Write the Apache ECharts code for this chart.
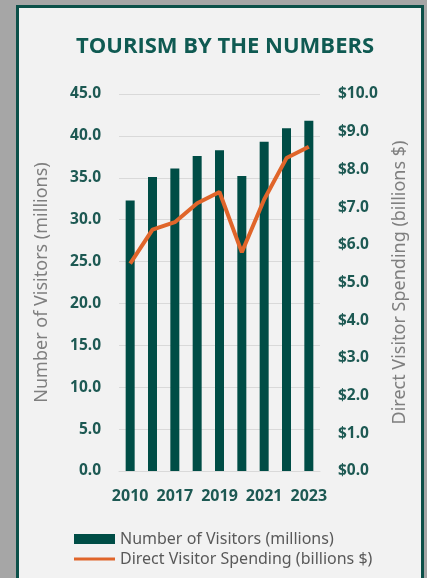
<!DOCTYPE html>
<html>
<head>
<meta charset="utf-8">
<script src="https://cdn.jsdelivr.net/npm/echarts@6/dist/echarts.min.js"></script>
<style>
  html, body { margin: 0; padding: 0; background: #a6a6a6; }
  #frame {
    position: absolute; left: 16px; top: 5px; width: 402px; height: 600px;
    border: 3px solid #0c5049; background: #f2f2f2;
  }
  #chart { position: absolute; left: 0; top: 0; width: 427px; height: 578px; }
</style>
</head>
<body>
<div id="frame"></div>
<div id="chart"></div>
<script>
// data
const years = ['2010', '2016', '2017', '2018', '2019', '2020', '2021', '2022', '2023'];
const visitors = [32.3, 35.1, 36.1, 37.6, 38.3, 35.2, 39.3, 40.9, 41.8];
const spending = [5.5, 6.4, 6.6, 7.1, 7.4, 5.8, 7.2, 8.3, 8.6];

const teal = '#004d46';
const orange = '#e0652a';
const labelColor = '#1d5953';

const chart = echarts.init(document.getElementById('chart'));
const option = {
    backgroundColor: 'transparent',
    title: {
        text: 'TOURISM BY THE NUMBERS',
        left: 71,
        top: 31,
        textStyle: { color: '#0f5a52', fontSize: 22, fontWeight: 'bold', fontFamily: 'Open Sans' }
    },
    legend: {
        orient: 'vertical',
        left: 69,
        top: 526,
        itemWidth: 41,
        itemHeight: 10,
        itemGap: 4,
        textStyle: { color: '#595959', fontSize: 16, fontFamily: 'Noto Sans' },
        data: [
            { name: 'Number of Visitors (millions)', icon: 'rect' },
            { name: 'Direct Visitor Spending (billions $)', icon: 'path://M0,0h40v3h-40z' }
        ]
    },
    grid: { left: 119, right: 107, top: 94, bottom: 107 },
    xAxis: {
        type: 'category',
        data: years,
        axisTick: { show: false },
        axisLine: { lineStyle: { color: '#d9d9d9' } },
        axisLabel: {
            interval: 1, color: labelColor, fontWeight: 'bold', fontSize: 16,
            fontFamily: 'Noto Sans', margin: 17
        }
    },
    yAxis: [
        {
            type: 'value', min: 0, max: 45, interval: 5,
            name: 'Number of Visitors (millions)',
            nameLocation: 'middle', nameGap: 68, nameRotate: 90,
            nameTextStyle: { color: '#7f7f7f', fontSize: 18, fontFamily: 'Noto Sans' },
            axisLabel: {
                color: labelColor, fontWeight: 'bold', fontSize: 15.5, fontFamily: 'Noto Sans',
                margin: 18, formatter: v => v.toFixed(1)
            },
            splitLine: { lineStyle: { color: '#d9d9d9' } }
        },
        {
            type: 'value', min: 0, max: 10, interval: 1,
            name: 'Direct Visitor Spending (billions $)',
            nameLocation: 'middle', nameGap: 71, nameRotate: 90,
            nameTextStyle: { color: '#7f7f7f', fontSize: 18, fontFamily: 'Noto Sans' },
            axisLabel: {
                color: labelColor, fontWeight: 'bold', fontSize: 15.5, fontFamily: 'Noto Sans',
                margin: 18, formatter: v => '$' + v.toFixed(1)
            },
            splitLine: { show: false }
        }
    ],
    series: [
        {
            name: 'Number of Visitors (millions)',
            type: 'bar',
            data: visitors,
            barWidth: 9,
            itemStyle: { color: teal }
        },
        {
            name: 'Direct Visitor Spending (billions $)',
            type: 'line',
            yAxisIndex: 1,
            data: spending,
            symbol: 'none',
            lineStyle: { color: orange, width: 4 },
            itemStyle: { color: orange }
        }
    ]
};
chart.setOption(option);
</script>
</body>
</html>
